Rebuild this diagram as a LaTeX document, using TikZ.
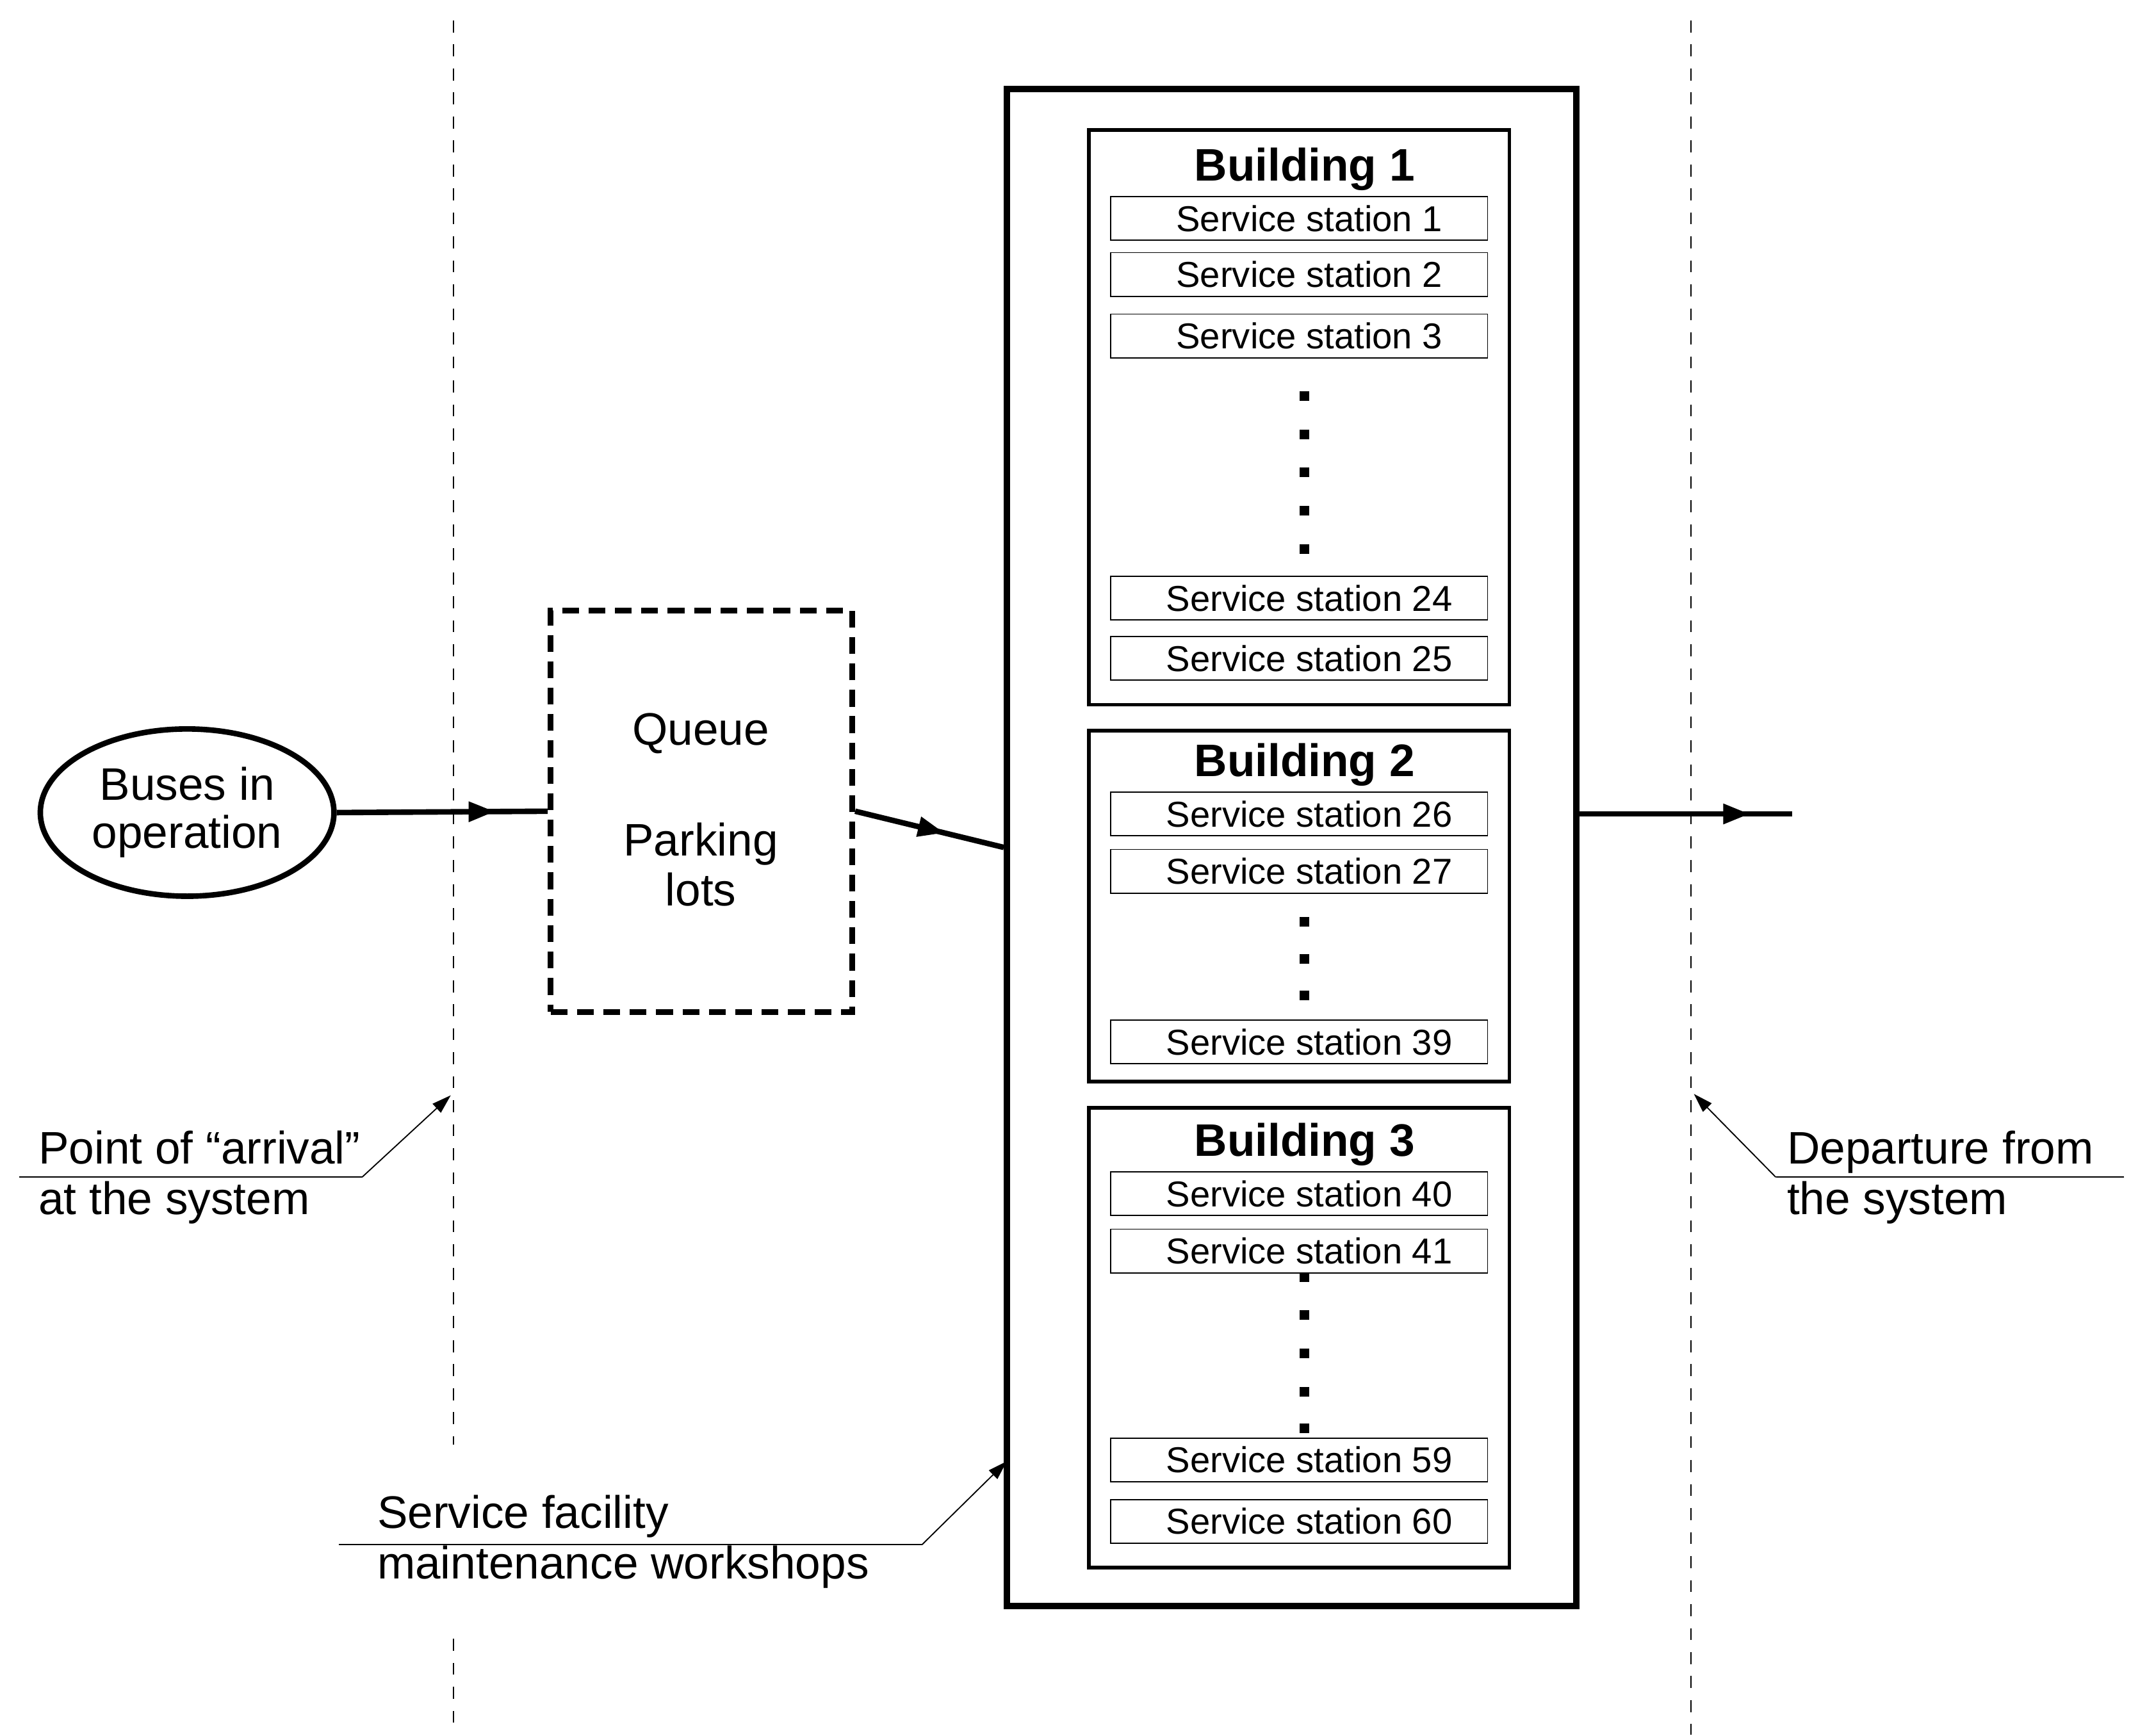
\documentclass[tikz,border=0pt]{standalone}
\usepackage{fontspec}
\setmainfont{Liberation Sans}
\usetikzlibrary{decorations.markings,arrows.meta,shapes.geometric}
\begin{document}
\begin{tikzpicture}[x=0.02cm,y=-0.02cm,
  big/.style={font=\fontsize{19}{22}\selectfont},
  st/.style={draw,line width=0.5pt,minimum width=5.52cm,minimum height=0.64cm,inner sep=0pt,font=\fontsize{15}{17}\selectfont},
  bld/.style={draw,line width=1.5pt},
  flow/.style={line width=2.3pt,postaction={decorate},decoration={markings,mark=at position #1 with {\arrow{Triangle[length=11pt,width=8pt]}}}},
  vdash/.style={line width=0.6pt,dash pattern=on 5pt off 5pt},
  note/.style={line width=0.5pt},
  dot/.style={fill,minimum size=0.14cm,inner sep=0pt}]
\useasboundingbox (0,0) rectangle (1560,1271);
% dashed verticals
\coordinate (l1) at (332,15); \coordinate (l2) at (332,1058);
\coordinate (l3) at (332,1200); \coordinate (l4) at (332,1268);
\coordinate (r1) at (1238,15); \coordinate (r2) at (1238,1270);
\draw[vdash] (l1)--(l2); \draw[vdash] (l3)--(l4); \draw[vdash] (r1)--(r2);
% ellipse
\node[draw,ellipse,line width=2.3pt,minimum width=4.3cm,minimum height=2.45cm,big,align=center,inner sep=0pt] (bus) at (137,595) {Buses in\\[-2pt]operation};
% queue
\node[draw,line width=2.3pt,dash pattern=on 7pt off 4pt,minimum width=4.42cm,minimum height=5.88cm] (q) at (513.5,594) {};
\node[big] (qt) at (513,537) {Queue};
\node[big,align=center] (pl) at (513,633) {Parking\\[-1pt]lots};
% outer facility
\node[draw,line width=2.5pt,minimum width=8.34cm,minimum height=22.22cm] (fac) at (945.5,620.5) {};
% buildings
\node[bld,minimum width=6.16cm,minimum height=8.42cm] (b1) at (951,305.5) {};
\node[bld,minimum width=6.16cm,minimum height=5.14cm] (b2) at (951,663.5) {};
\node[bld,minimum width=6.16cm,minimum height=6.74cm] (b3) at (951,979.5) {};
\node[big,font=\fontsize{19}{22}\selectfont\bfseries] (t1) at (955,124) {Building 1};
\node[big,font=\fontsize{19}{22}\selectfont\bfseries] (t2) at (955,560) {Building 2};
\node[big,font=\fontsize{19}{22}\selectfont\bfseries] (t3) at (955,838) {Building 3};
\foreach \y/\n [count=\i] in {160/1,201/2,246/3,438/24,482/25,596/26,638/27,763/39,874/40,916/41,1069/59,1114/60}
  \node[st] (s\i) at (951,\y) {\hspace{0.3cm}Service station \n};
\foreach \y [count=\i] in {290,318,346,374,402,675,702,729,935,963,991,1019,1046}
  \node[dot] (d\i) at (955,\y) {};
% flow
\coordinate (o1) at (1312,596);
\draw[flow=0.75] (bus.east) -- (q.west);
\draw[flow=0.6] (q.east) -- (fac.west);
\draw[flow=0.8] (fac.east |- o1) -- (o1);
% annotations
\coordinate (a1) at (14,862); \coordinate (a2) at (265,862); \coordinate (a3) at (330,802);
\draw[note] (a1)--(a2); \draw[note,-{Triangle[length=8pt,width=5pt]}] (a2)--(a3);
\node[big,anchor=west,align=left] (at) at (22,862) {Point of “arrival”\\[-1pt]at the system};
\coordinate (p1) at (1555,862); \coordinate (p2) at (1300,862); \coordinate (p3) at (1240,801);
\draw[note] (p1)--(p2); \draw[note,-{Triangle[length=8pt,width=5pt]}] (p2)--(p3);
\node[big,anchor=west,align=left] (dt) at (1302,862) {Departure from\\[-1pt]the system};
\coordinate (f1) at (248,1131); \coordinate (f2) at (675,1131); \coordinate (f3) at (737,1070);
\draw[note] (f1)--(f2); \draw[note,-{Triangle[length=8pt,width=5pt]}] (f2)--(f3);
\node[big,anchor=west,align=left] (ft) at (270,1129) {Service facility\\[-1pt]maintenance workshops};
\end{tikzpicture}
\end{document}
